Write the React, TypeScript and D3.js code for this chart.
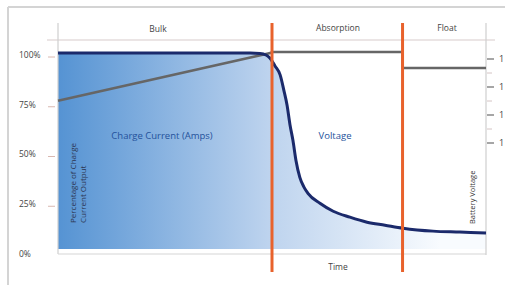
import React from 'react';
import * as d3 from 'd3';

// time axis is 0..100, stage boundaries at the orange lines
const stageNames = ['Bulk', 'Absorption', 'Float'];
const stageBounds = [0, 50, 80.5, 100];

// charge current, percent of output
const currentTime = [0, 44.9, 47.2, 48.6, 49.5, 50.7, 51.9, 52.8, 53.5, 54.2, 54.9, 55.6, 56.5, 57.5, 58.4, 61.2, 64.3, 68.2, 72.2, 76.4, 80.6, 87.6, 93.9, 100];
const currentPct = [102, 102, 101.8, 101, 99.5, 95.5, 91, 83, 76, 66, 58, 48, 39.5, 34.5, 31.5, 26.5, 22.5, 19.5, 17, 15.5, 14, 12.5, 12, 11.5];

// battery voltage line (same percent scale)
const voltageTime = [0, 49.6, 50, 80.5, 80.5, 100];
const voltagePct = [78, 102, 102.5, 102.5, 94.5, 94.5];

const pctTicks = [100, 75, 50, 25, 0];
const pctLabels = ['100%', '75%', '50%', '25%', '0%'];
// right axis labels are cut at the picture edge, only the first digit shows
const voltTicks = [15, 14, 13, 12];
const voltLabels = ['1', '1', '1', '1'];
const voltMinor = [14.5, 13.5, 12.5];

const W = 505;
const H = 285;
const left = 58;
const right = 486;
const fillBase = 3.5;

const App = () => {
  const x = d3.scaleLinear().domain([0, 100]).range([left, right]);
  const y = d3.scaleLinear().domain([0, 100]).range([256, 57]);
  const yV = d3.scaleLinear().domain([12, 15]).range([143, 59]);

  const current = currentTime.map((t, i) => [t, currentPct[i]] as [number, number]);
  const voltage = voltageTime.map((t, i) => [t, voltagePct[i]] as [number, number]);

  const line = d3.line<[number, number]>()
    .x(d => x(d[0]))
    .y(d => y(d[1]))
    .curve(d3.curveMonotoneX);
  const area = d3.area<[number, number]>()
    .x(d => x(d[0]))
    .y0(y(fillBase))
    .y1(d => y(d[1]))
    .curve(d3.curveMonotoneX);
  const straight = d3.line<[number, number]>().x(d => x(d[0])).y(d => y(d[1]));

  const font = '"Open Sans", "Noto Sans", sans-serif';

  return (
    <svg width={W} height={H} style={{ position: 'absolute', left: 0, top: 0, fontFamily: font }}>
      <defs>
        <linearGradient id="fillGrad" gradientUnits="userSpaceOnUse" x1={left} x2={440} y1={0} y2={0}>
          <stop offset="0" stopColor="#5593d3" />
          <stop offset="0.55" stopColor="#bdd3ee" />
          <stop offset="1" stopColor="#f8fbfe" />
        </linearGradient>
      </defs>
      <rect width={W} height={H} fill="#fff" />
      {/* frame */}
      <line x1={8} x2={W} y1={7} y2={7} stroke="#d4d4d4" strokeWidth={2} />
      <line x1={8} x2={8} y1={7} y2={H} stroke="#d4d4d4" strokeWidth={2} />

      {/* header separator */}
      <line x1={47} x2={495} y1={40} y2={40} stroke="#e4dcdc" strokeWidth={1.5} />

      <path d={area(current) || ''} fill="url(#fillGrad)" />

      {/* axes */}
      <line x1={left} x2={left} y1={23} y2={254} stroke="#cfcfcf" strokeWidth={1.2} />
      <line x1={left} x2={right} y1={254} y2={254} stroke="#d6d6d6" strokeWidth={1.2} />
      <line x1={right} x2={right} y1={23} y2={255} stroke="#cfcfcf" strokeWidth={1.2} />

      {pctTicks.map((v, i) => (
        <g key={'pt' + i}>
          {v > 0 && <line x1={48} x2={55} y1={y(v)} y2={y(v)} stroke="#d9b8b0" strokeWidth={1} />}
          <text x={19} y={y(v) - 2} dy="0.35em" fontSize={8.5} fill="#444">{pctLabels[i]}</text>
        </g>
      ))}

      {voltTicks.map((v, i) => (
        <g key={'vt' + i}>
          <line x1={487} x2={494} y1={yV(v)} y2={yV(v)} stroke="#888" strokeWidth={1.5} />
          <text x={499} y={yV(v)} dy="0.35em" fontSize={9} fill="#444">{voltLabels[i]}</text>
        </g>
      ))}
      {voltMinor.map((v, i) => (
        <line key={'vm' + i} x1={487} x2={492} y1={yV(v)} y2={yV(v)} stroke="#d4c4c4" strokeWidth={1} />
      ))}

      <path d={straight(voltage) || ''} fill="none" stroke="#666" strokeWidth={2.5} />
      <path d={line(current) || ''} fill="none" stroke="#1b2a6b" strokeWidth={3} />

      {/* stage boundaries */}
      {stageBounds.slice(1, 3).map((b, i) => (
        <line key={'sb' + i} x1={x(b)} x2={x(b)} y1={23} y2={272} stroke="#e8622c" strokeWidth={3} />
      ))}

      {/* stage names */}
      <text x={158} y={29} dy="0.35em" textAnchor="middle" fontSize={8.5} fill="#444">{stageNames[0]}</text>
      <text x={338} y={28} dy="0.35em" textAnchor="middle" fontSize={8.5} fill="#444">{stageNames[1]}</text>
      <text x={447} y={28} dy="0.35em" textAnchor="middle" fontSize={8.5} fill="#444">{stageNames[2]}</text>
      <text x={338} y={267} dy="0.35em" textAnchor="middle" fontSize={8.5} fill="#444">Time</text>

      <text x={162} y={136} dy="0.35em" textAnchor="middle" fontSize={9.5} fill="#24529b">Charge Current (Amps)</text>
      <text x={335} y={136} dy="0.35em" textAnchor="middle" fontSize={9.5} fill="#24529b">Voltage</text>

      <text transform="translate(76,223) rotate(-90)" fontSize={8} fill="#2c3550">Percentage of Charge</text>
      <text transform="translate(86,223) rotate(-90)" fontSize={8} fill="#2c3550">Current Output</text>
      <text transform="translate(475,224) rotate(-90)" fontSize={7.5} fill="#333">Battery Voltage</text>
    </svg>
  );
};

export default App;
